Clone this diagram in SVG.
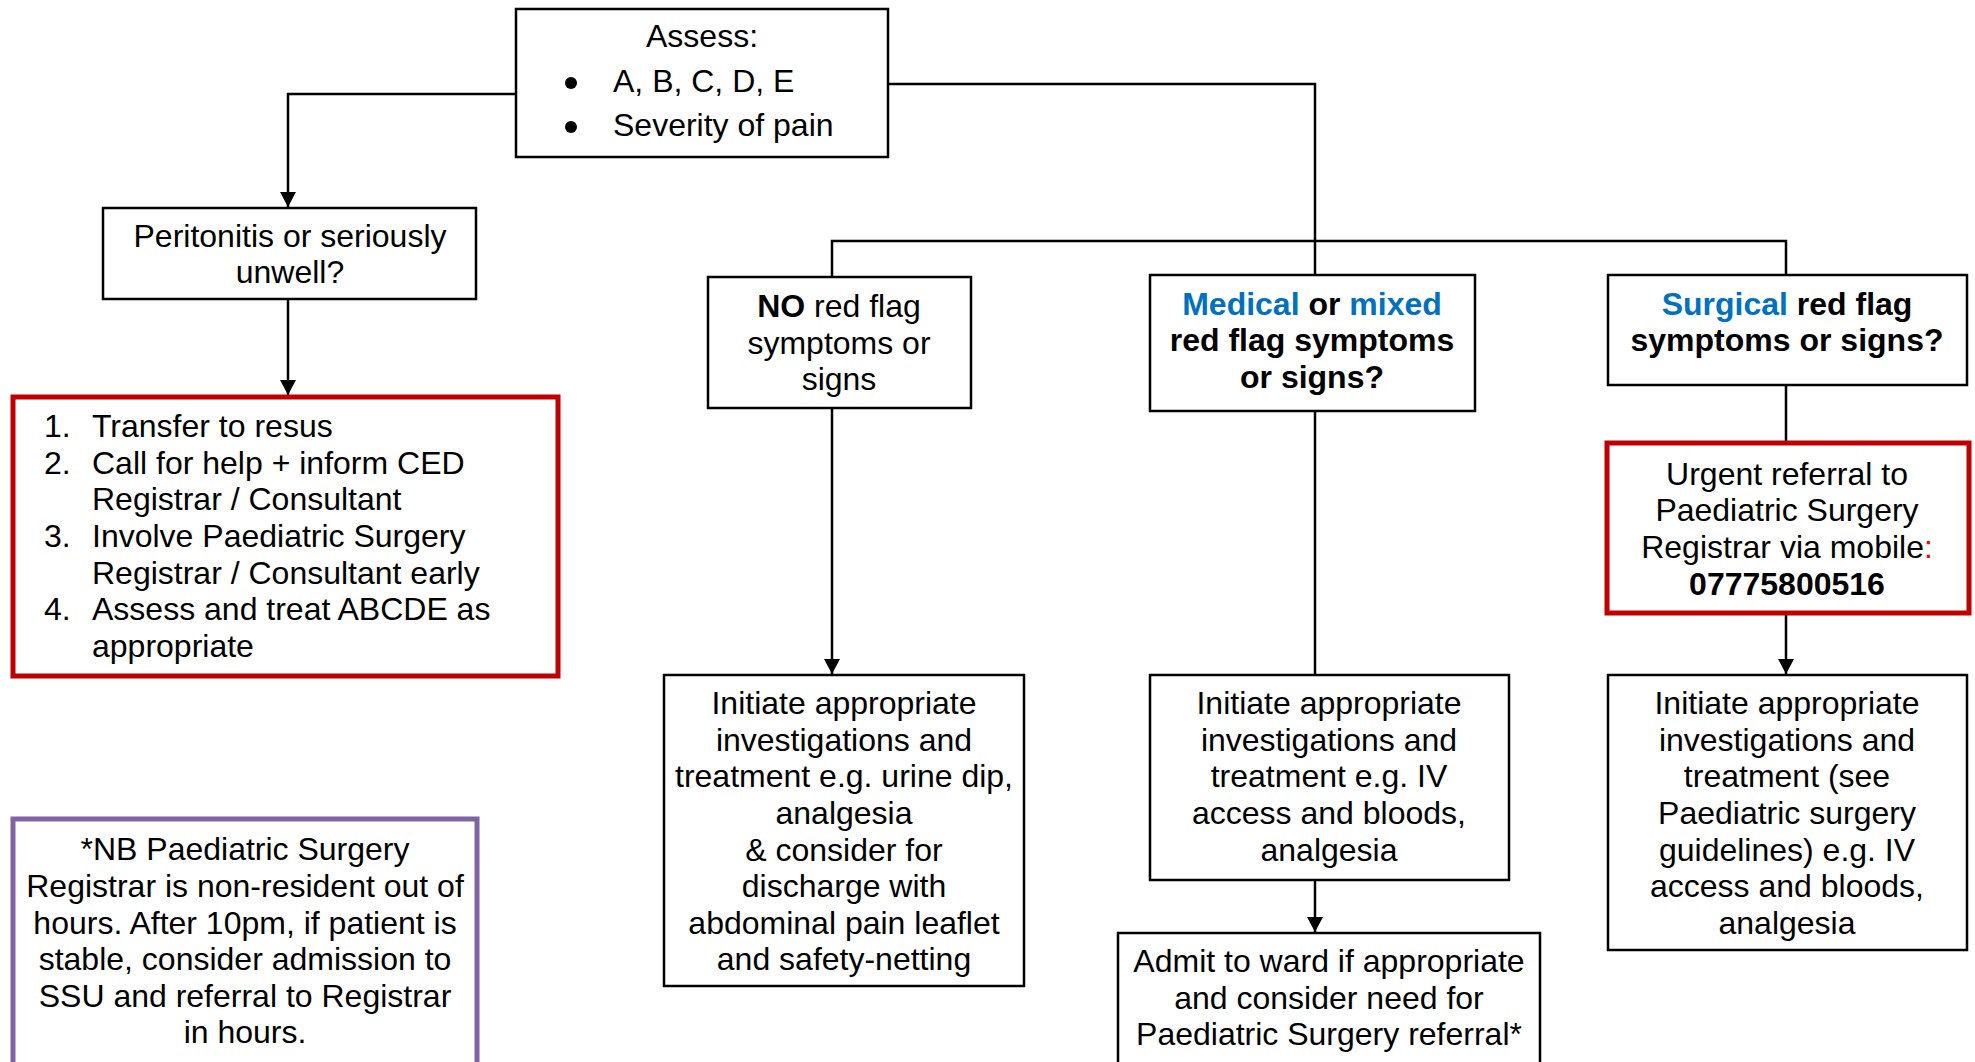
<svg xmlns="http://www.w3.org/2000/svg" width="1975" height="1062" viewBox="0 0 1975 1062">
<style>
text{font-family:"Liberation Sans",Arial,sans-serif;font-size:32px;fill:#000}
.c{text-anchor:middle}
.b{font-weight:bold}
.blue{fill:#0070C0}
.box{fill:#fff;stroke:#000;stroke-width:2.5}
.red{fill:#fff;stroke:#C00000;stroke-width:5}
.purple{fill:#fff;stroke:#8064A2;stroke-width:5}
.ln{fill:none;stroke:#000;stroke-width:2.5}
</style>
<defs>
<marker id="ah" viewBox="0 0 15 16" refX="15" refY="8" markerWidth="15" markerHeight="16" markerUnits="userSpaceOnUse" orient="auto">
<path d="M0,0 L15,8 L0,16 Z" fill="#000"/>
</marker>
</defs>
<g id="connectors">
<path class="ln" d="M516,94 H288 V207" marker-end="url(#ah)"/>
<path class="ln" d="M288,299 V395" marker-end="url(#ah)"/>
<path class="ln" d="M888,84 H1315 V275"/>
<path class="ln" d="M832,277 V241 H1786 V275"/>
<path class="ln" d="M832,408 V674" marker-end="url(#ah)"/>
<path class="ln" d="M1315,411 V675"/>
<path class="ln" d="M1315,880 V932" marker-end="url(#ah)"/>
<path class="ln" d="M1786,385 V443"/>
<path class="ln" d="M1786,613 V674" marker-end="url(#ah)"/>
</g>
<g id="assess">
<rect class="box" x="516" y="9" width="372" height="148"/>
<text class="c" x="702" y="47">Assess:</text>
<circle cx="571" cy="83" r="6" fill="#000"/>
<text x="613" y="92">A, B, C, D, E</text>
<circle cx="571" cy="127" r="6" fill="#000"/>
<text x="613" y="136">Severity of pain</text>
</g>
<g id="peritonitis">
<rect class="box" x="103" y="208" width="373" height="91"/>
<text class="c" x="290" y="247">Peritonitis or seriously</text>
<text class="c" x="290" y="283">unwell?</text>
</g>
<g id="resus">
<rect class="red" x="13" y="397" width="545" height="279"/>
<text x="44" y="437">1.</text><text x="92" y="437">Transfer to resus</text>
<text x="44" y="474">2.</text><text x="92" y="474">Call for help + inform CED</text>
<text x="92" y="510">Registrar / Consultant</text>
<text x="44" y="547">3.</text><text x="92" y="547">Involve Paediatric Surgery</text>
<text x="92" y="584">Registrar / Consultant early</text>
<text x="44" y="620">4.</text><text x="92" y="620">Assess and treat ABCDE as</text>
<text x="92" y="657">appropriate</text>
</g>
<g id="note">
<rect class="purple" x="13" y="819" width="464" height="260"/>
<text class="c" x="245" y="860">*NB Paediatric Surgery</text>
<text class="c" x="245" y="897">Registrar is non-resident out of</text>
<text class="c" x="245" y="934">hours. After 10pm, if patient is</text>
<text class="c" x="245" y="970">stable, consider admission to</text>
<text class="c" x="245" y="1007">SSU and referral to Registrar</text>
<text class="c" x="245" y="1043">in hours.</text>
</g>
<g id="no-red-flag">
<rect class="box" x="708" y="277" width="263" height="131"/>
<text class="c" x="839" y="317"><tspan class="b">NO</tspan> red flag</text>
<text class="c" x="839" y="354">symptoms or</text>
<text class="c" x="839" y="390">signs</text>
</g>
<g id="medical">
<rect class="box" x="1150" y="275" width="325" height="136"/>
<text class="c b" x="1312" y="315"><tspan class="blue">Medical</tspan> or <tspan class="blue">mixed</tspan></text>
<text class="c b" x="1312" y="351">red flag symptoms</text>
<text class="c b" x="1312" y="388">or signs?</text>
</g>
<g id="surgical">
<rect class="box" x="1608" y="275" width="359" height="110"/>
<text class="c b" x="1787" y="315"><tspan class="blue">Surgical</tspan> red flag</text>
<text class="c b" x="1787" y="351">symptoms or signs?</text>
</g>
<g id="urgent">
<rect class="red" x="1607" y="443" width="362" height="170"/>
<text class="c" x="1787" y="485">Urgent referral to</text>
<text class="c" x="1787" y="521">Paediatric Surgery</text>
<text class="c" x="1787" y="558">Registrar via mobile<tspan fill="#FF0000">:</tspan></text>
<text class="c b" x="1787" y="595">07775800516</text>
</g>
<g id="initiate-no">
<rect class="box" x="664" y="675" width="360" height="311"/>
<text class="c" x="844" y="714">Initiate appropriate</text>
<text class="c" x="844" y="751">investigations and</text>
<text class="c" x="844" y="787">treatment e.g. urine dip,</text>
<text class="c" x="844" y="824">analgesia</text>
<text class="c" x="844" y="861">&amp; consider for</text>
<text class="c" x="844" y="897">discharge with</text>
<text class="c" x="844" y="934">abdominal pain leaflet</text>
<text class="c" x="844" y="970">and safety-netting</text>
</g>
<g id="initiate-medical">
<rect class="box" x="1150" y="675" width="359" height="205"/>
<text class="c" x="1329" y="714">Initiate appropriate</text>
<text class="c" x="1329" y="751">investigations and</text>
<text class="c" x="1329" y="787">treatment e.g. IV</text>
<text class="c" x="1329" y="824">access and bloods,</text>
<text class="c" x="1329" y="861">analgesia</text>
</g>
<g id="admit">
<rect class="box" x="1118" y="933" width="422" height="150"/>
<text class="c" x="1329" y="972">Admit to ward if appropriate</text>
<text class="c" x="1329" y="1009">and consider need for</text>
<text class="c" x="1329" y="1045">Paediatric Surgery referral*</text>
</g>
<g id="initiate-surgical">
<rect class="box" x="1608" y="675" width="359" height="275"/>
<text class="c" x="1787" y="714">Initiate appropriate</text>
<text class="c" x="1787" y="751">investigations and</text>
<text class="c" x="1787" y="787">treatment (see</text>
<text class="c" x="1787" y="824">Paediatric surgery</text>
<text class="c" x="1787" y="861">guidelines) e.g. IV</text>
<text class="c" x="1787" y="897">access and bloods,</text>
<text class="c" x="1787" y="934">analgesia</text>
</g>
</svg>
